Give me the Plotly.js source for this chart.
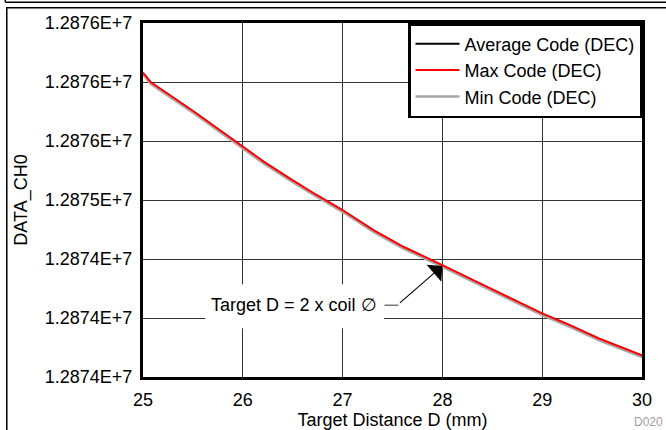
<!DOCTYPE html>
<html>
<head>
<meta charset="utf-8">
<script src="https://cdn.plot.ly/plotly-3.0.1.min.js"></script>
<style>
html,body{margin:0;padding:0;background:#fff;}
#chart{width:666px;height:430px;}
</style>
</head>
<body>
<div id="chart"></div>
<script>
// Target distance (mm)
const distance = [25.0, 25.08, 25.51, 25.91, 26.0, 26.21, 26.47, 26.74, 27.0, 27.31, 27.61, 27.87, 28.0, 28.31, 28.57, 29.0, 29.24, 29.57, 30.0];
// Max code (DEC)
const maxCode = [12875664, 12875598, 12875400, 12875207, 12875162, 12875060, 12874947, 12874834, 12874732, 12874596, 12874483, 12874404, 12874359, 12874257, 12874173, 12874031, 12873963, 12873861, 12873747];
// Average code (DEC)
const avgCode = [12875658, 12875592, 12875394, 12875201, 12875156, 12875054, 12874941, 12874828, 12874726, 12874590, 12874477, 12874398, 12874353, 12874251, 12874167, 12874025, 12873957, 12873855, 12873741];
// Min code (DEC)
const minCode = [12875652, 12875586, 12875388, 12875195, 12875150, 12875048, 12874935, 12874822, 12874720, 12874584, 12874471, 12874392, 12874347, 12874245, 12874161, 12874019, 12873951, 12873849, 12873735];

const xTickVals = [25, 26, 27, 28, 29, 30];
const xTickText = ['25', '26', '27', '28', '29', '30'];
const yTickVals = [12873600, 12874000, 12874400, 12874800, 12875200, 12875600, 12876000];
const yTickText = ['1.2874E+7', '1.2874E+7', '1.2874E+7', '1.2875E+7', '1.2876E+7', '1.2876E+7', '1.2876E+7'];

const FONT = 'Arial, "Liberation Sans", sans-serif';

const arrowIdx = distance.indexOf(28.0);

const traces = [
  {x: distance, y: avgCode, name: 'Average Code (DEC)', mode: 'lines', line: {color: '#000000', width: 2}, legendrank: 1},
  {x: distance, y: minCode, name: 'Min Code (DEC)', mode: 'lines', line: {color: '#a6a6a6', width: 2.5}, legendrank: 3},
  {x: distance, y: maxCode, name: 'Max Code (DEC)', mode: 'lines', line: {color: '#ff0000', width: 2}, legendrank: 2}
];

const layout = {
  width: 666, height: 430,
  margin: {l: 143, r: 24, t: 23, b: 53},
  paper_bgcolor: '#ffffff', plot_bgcolor: '#ffffff',
  font: {family: FONT, size: 18, color: '#000000'},
  showlegend: true,
  legend: {
    x: 1, xanchor: 'right', y: 1, yanchor: 'top',
    bgcolor: '#ffffff', bordercolor: '#000000', borderwidth: 2.5,
    font: {family: FONT, size: 18, color: '#000000'},
    traceorder: 'normal', itemwidth: 44
  },
  xaxis: {
    range: [25, 30], tickvals: xTickVals, ticktext: xTickText,
    showgrid: true, gridcolor: '#333333', gridwidth: 1,
    showline: true, linecolor: '#000000', linewidth: 3, mirror: true,
    ticks: '', zeroline: false, ticklabelstandoff: 4,
    tickfont: {family: FONT, size: 18},
    title: {text: 'Target Distance D (mm)', font: {family: FONT, size: 18}, standoff: 4}
  },
  yaxis: {
    range: [12873600, 12876000], tickvals: yTickVals, ticktext: yTickText,
    showgrid: true, gridcolor: '#333333', gridwidth: 1,
    showline: true, linecolor: '#000000', linewidth: 3, mirror: true,
    ticks: '', zeroline: false, ticklabelstandoff: 4,
    tickfont: {family: FONT, size: 18},
    title: {text: 'DATA_CH0', font: {family: FONT, size: 18}, standoff: 13}
  },
  shapes: [
    // outer frame of the figure panel
    {type: 'rect', xref: 'paper', yref: 'paper', x0: -0.273, x1: 1.2, y0: -0.3, y1: 1.0433,
     line: {color: '#000000', width: 1.5}, fillcolor: 'rgba(0,0,0,0)', layer: 'below'},
    {type: 'line', xref: 'paper', yref: 'paper', x0: -0.276, x1: 1.2, y0: 1.0585, y1: 1.0585,
     line: {color: '#000000', width: 1.5}},
    {type: 'line', xref: 'paper', yref: 'paper', x0: -0.276, x1: -0.276, y0: 1.0585, y1: 1.2,
     line: {color: '#000000', width: 1.5}},
    // white box behind annotation text
    {type: 'rect', xref: 'paper', yref: 'paper', x0: 0.1247, x1: 0.4830, y0: 0.1378, y1: 0.2623,
     line: {width: 0}, fillcolor: '#ffffff', layer: 'above'},
    // short leader segment
    {type: 'line', xref: 'paper', yref: 'paper', x0: 0.4840, x1: 0.5117, y0: 0.2029, y1: 0.2029,
     line: {color: '#333333', width: 1}}
  ],
  annotations: [
    {xref: 'paper', yref: 'paper', x: 0.3025, y: 0.2029, xanchor: 'center', yanchor: 'middle',
     text: 'Target D = 2 x coil \u2205', showarrow: false, font: {family: FONT, size: 18, color: '#000000'}},
    {x: distance[arrowIdx], y: avgCode[arrowIdx], xref: 'x', yref: 'y', text: '',
     showarrow: true, arrowhead: 1, arrowsize: 3.4, arrowwidth: 1.1, arrowcolor: '#000000',
     ax: -44, ay: 38.3, standoff: 0},
    {xref: 'paper', yref: 'paper', x: 1.046, y: -0.128, xanchor: 'right', yanchor: 'middle',
     text: 'D020', showarrow: false, font: {family: FONT, size: 12, color: '#a0a0a0'}}
  ]
};

Plotly.newPlot('chart', traces, layout, {displayModeBar: false, staticPlot: true});
</script>
</body>
</html>
